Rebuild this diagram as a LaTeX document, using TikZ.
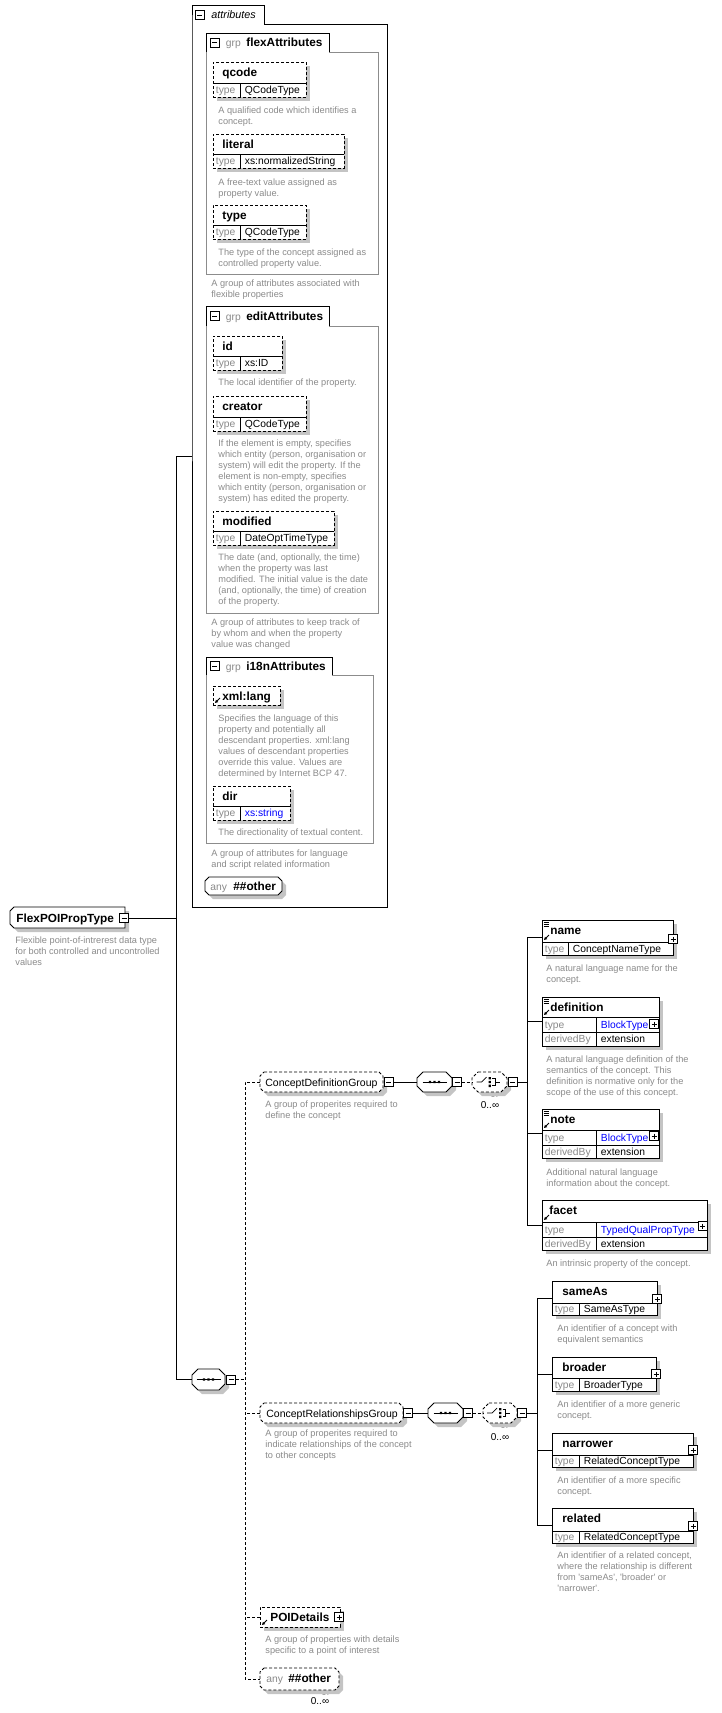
\documentclass[tikz,border=0pt]{standalone}
\usepackage{fontspec}
\setmainfont{Liberation Sans}
\usetikzlibrary{arrows.meta}
\definecolor{dg}{HTML}{8A8A8A}
\definecolor{shc}{HTML}{C4C4C4}
\definecolor{lnk}{HTML}{0000FF}
\definecolor{grpc}{HTML}{8C8C8C}

\newcommand\octp[5]{(#1+#5,#2) -- (#3-#5,#2) -- (#3,#2+#5) -- (#3,#4-#5) -- (#3-#5,#4) -- (#1+#5,#4) -- (#1,#4-#5) -- (#1,#2+#5) -- cycle}
\newcommand\frm[5]{\node[frame, minimum width={#4-#2}, minimum height={#5-#3}] (#1) at ({(#2+#4)/2},{(#3+#5)/2}) {};}
\newcommand\shp[7]{%
 \fill[shc, shift={(4,4)}] \octp{#2}{#3}{#4}{#5}{#6};
 \draw[fill=white, #7] \octp{#2}{#3}{#4}{#5}{#6};
 \frm{#1}{#2}{#3}{#4}{#5}}
\newcommand\elem[8]{%
 \fill[shc] (#2+4,#3+4) rectangle (#4+4,#5+4);
 \node[frame, draw, fill=white, #6, minimum width={#4-#2}, minimum height={#5-#3}] (#1) at ({(#2+#4)/2},{(#3+#5)/2}) {};
 \node[nm] (#1L) at (#8,#3+14.8) {#7};}
\newcommand\trow[9]{%
 \draw[line width=0.7pt] (#1,#3) -- (#2,#3) (#5,#3) -- (#5,#4);
 \node[tl] (#6) at (#1+2.5,{(#3+#4)/2+3.8}) {#7};
 \node[#8] (#6V) at (#5+4.5,{(#3+#4)/2+3.8}) {#9};}
\newcommand\desc[4]{\node[desc] (#1) at (#2,#3-8) {\rule{0pt}{8pt}#4};}
\newcommand\mnb[3]{\node[pm] (#1) at (#2,#3) {}; \draw[line width=0.7pt] (#2-2.5,#3) -- (#2+2.5,#3);}
\newcommand\plb[3]{\node[pm] (#1) at (#2,#3) {}; \draw[line width=0.7pt] (#2-2.5,#3) -- (#2+2.5,#3) (#2,#3-2.5) -- (#2,#3+2.5);}
\newcommand\lines[2]{\draw[line width=0.6pt] (#1+1.5,#2+2) -- (#1+6.5,#2+2) (#1+1.5,#2+4) -- (#1+6.5,#2+4) (#1+1.5,#2+6) -- (#1+6.5,#2+6);}
\newcommand\refar[2]{\draw[line width=0.8pt, -{Triangle[length=3pt,width=3pt]}] (#1+7,#2-7) -- (#1+2,#2-2);}
\newcommand\seqicon[2]{\draw[line width=0.7pt] (#1-12,#2) -- (#1+12,#2); \fill (#1-5.7,#2-1.2) rectangle (#1-3.3,#2+1.2) (#1-1.2,#2-1.2) rectangle (#1+1.2,#2+1.2) (#1+3.3,#2-1.2) rectangle (#1+5.7,#2+1.2);}
\newcommand\chicon[2]{\draw[line width=0.7pt] (#1-13,#2) -- (#1-8,#2) -- (#1-3,#2-5); \fill (#1-1,#2-5) rectangle (#1+1.4,#2-2.6) (#1-1,#2-1.2) rectangle (#1+1.4,#2+1.2) (#1-1,#2+2.6) rectangle (#1+1.4,#2+5); \draw[line width=0.7pt] (#1+2.5,#2-3.5) -- (#1+5.5,#2-3.5) -- (#1+5.5,#2+3.5) -- (#1+2.5,#2+3.5) (#1+5.5,#2) -- (#1+10,#2);}
\newcommand\tailmark[2]{\draw[dsh, line width=0.7pt] (#1-6,#2) -- (#1-2,#2+4) -- (#1+3,#2+4) -- (#1+6,#2);}
\newcommand\grp[8]{%
 \pgfmathsetmacro\gym{(#3+#5)/2}
 \draw[grpc] (#4,#5) -- (#6,#5) -- (#6,#7) -- (#2,#7) -- (#2,#5);
 \draw (#2,#5) -- (#2,#3) -- (#4,#3) -- (#4,#5);
 \mnb{#1M}{#2+8.5}{\gym}
 \node[tv, text=dg] (#1G) at (#2+19.5,\gym+4) {grp};
 \node[nm] (#1L) at (#2+40,\gym+4) {#8};
 \frm{#1}{#2}{#3}{#6}{#7}}

\begin{document}
\begin{tikzpicture}[x=1pt,y=-1pt, line width=0.8pt,
  desc/.style={font=\fontsize{9.2}{11}\selectfont, text=dg, align=left, anchor=north west, inner sep=0},
  nm/.style={font=\fontsize{11.8}{13}\selectfont\bfseries, anchor=base west, inner sep=0},
  rn/.style={font=\fontsize{10.5}{12}\selectfont, anchor=base west, inner sep=0},
  tv/.style={font=\fontsize{10.3}{12}\selectfont, anchor=base west, inner sep=0},
  tl/.style={tv, text=dg},
  tlink/.style={tv, text=lnk},
  frame/.style={inner sep=0, outer sep=0},
  dsh/.style={dash pattern=on 3pt off 2pt},
  pm/.style={draw, fill=white, minimum size=9pt, inner sep=0, outer sep=0, line width=0.7pt},
  cnt/.style={font=\fontsize{10}{12}\selectfont, inner sep=0},
]
\useasboundingbox (0,0) rectangle (722,1713);

% ---------- attributes panel ----------
\draw (192,24) -- (192,5) -- (264,5) -- (264,24) -- (387,24) -- (387,907) -- (192,907) -- cycle;
\frm{attr}{192}{5}{387}{907}
\mnb{attrM}{199.5}{15}
\node[tv, font=\fontsize{10.8}{12}\selectfont\itshape] (attrL) at (211,19) {attributes};

% flexAttributes
\grp{flex}{206}{33}{329}{52}{378}{274}{flexAttributes}
\elem{qcode}{213}{62}{306}{97}{dsh}{qcode}{222}
\trow{213}{306}{83}{97}{240}{qcodeT}{type}{tv}{QCodeType}
\desc{qcodeD}{218}{113.5}{A qualified code which identifies a\\concept.}
\elem{literal}{213}{134}{344}{168}{dsh}{literal}{222}
\trow{213}{344}{154}{168}{240}{literalT}{type}{tv}{xs:normalizedString}
\desc{literalD}{218}{185}{A free-text value assigned as\\property value.}
\elem{typeA}{213}{205}{306}{239}{dsh}{type}{222}
\trow{213}{306}{225}{239}{240}{typeAT}{type}{tv}{QCodeType}
\desc{typeAD}{218}{255.5}{The type of the concept assigned as\\controlled property value.}
\desc{flexD}{211}{286.5}{A group of attributes associated with\\flexible properties}

% editAttributes
\grp{edit}{206}{306}{329}{326}{378}{613}{editAttributes}
\elem{id}{213}{336}{282}{370}{dsh}{id}{222}
\trow{213}{282}{356}{370}{240}{idT}{type}{tv}{xs:ID}
\desc{idD}{218}{385.5}{The local identifier of the property.}
\elem{creator}{213}{396}{306}{431}{dsh}{creator}{222}
\trow{213}{306}{417}{431}{240}{creatorT}{type}{tv}{QCodeType}
\desc{creatorD}{218}{446.5}{If the element is empty, specifies\\which entity (person, organisation or\\system) will edit the property. If the\\element is non-empty, specifies\\which entity (person, organisation or\\system) has edited the property.}
\elem{modified}{213}{511}{334}{545}{dsh}{modified}{222}
\trow{213}{334}{531}{545}{240}{modifiedT}{type}{tv}{DateOptTimeType}
\desc{modifiedD}{218}{560.5}{The date (and, optionally, the time)\\when the property was last\\modified. The initial value is the date\\(and, optionally, the time) of creation\\of the property.}
\desc{editD}{211}{625.5}{A group of attributes to keep track of\\by whom and when the property\\value was changed}

% i18nAttributes
\grp{intl}{206}{657}{332}{675}{373}{843}{i18nAttributes}
\elem{xmllang}{213}{686}{280}{705}{dsh}{xml:lang}{222}
\refar{213}{705}
\desc{xmllangD}{218}{721.5}{Specifies the language of this\\property and potentially all\\descendant properties. xml:lang\\values of descendant properties\\override this value. Values are\\determined by Internet BCP 47.}
\elem{dir}{213}{786}{290}{820}{dsh}{dir}{222}
\trow{213}{290}{806}{820}{240}{dirT}{type}{tlink}{xs:string}
\desc{dirD}{218}{835.5}{The directionality of textual content.}
\desc{intlD}{211}{856.5}{A group of attributes for language\\and script related information}
\shp{anyA}{205}{877}{282}{895}{4}{}
\node[tv, text=dg] (anyAk) at (210,890.5) {any};
\node[nm] (anyAL) at (233,890.5) {\#\#other};

% ---------- FlexPOIPropType ----------
\fill[shc, shift={(4,4)}] (14,907) -- (125,907) -- (125,928) -- (14,928) -- (10,924) -- (10,911) -- cycle;
\draw[fill=white] (14,907) -- (125,907) -- (125,928) -- (14,928) -- (10,924) -- (10,911) -- cycle;
\frm{fpt}{10}{907}{125}{928}
\node[nm] (fptL) at (16,922) {FlexPOIPropType};
\mnb{fptM}{124}{918}
\desc{fptD}{15}{943.5}{Flexible point-of-intrerest data type\\for both controlled and uncontrolled\\values}

% ---------- main sequence ----------
\shp{seq0}{192}{1369}{225}{1390}{6}{}
\seqicon{208.5}{1379.5}
\mnb{seq0M}{231}{1379.5}

% ---------- ConceptDefinitionGroup ----------
\shp{cdg}{260}{1072}{383}{1092}{4}{dsh}
\node[rn] (cdgL) at (265,1086) {ConceptDefinitionGroup};
\mnb{cdgM}{388.5}{1082}
\desc{cdgD}{265}{1107.5}{A group of properites required to\\define the concept}
\shp{seq1}{417}{1072}{452}{1092}{6}{}
\seqicon{434.5}{1082}
\mnb{seq1M}{457}{1082}
\tailmark{494}{1092}
\shp{ch1}{472}{1072}{507}{1092}{6}{dsh}
\chicon{489.5}{1082}
\mnb{ch1M}{512.5}{1082}
\node[cnt] (ch1N) at (490,1105) {0..∞};

\elem{name}{542}{920}{673}{955}{}{name}{550}
\lines{542}{920} \refar{542}{942}
\trow{542}{673}{942}{955}{568}{nameT}{type}{tv}{ConceptNameType}
\plb{nameP}{673}{939}
\desc{nameD}{546}{971.5}{A natural language name for the\\concept.}

\elem{definition}{542}{997}{659}{1046}{}{definition}{550}
\lines{542}{997} \refar{542}{1017}
\trow{542}{659}{1017}{1032}{596}{defT}{type}{tlink}{BlockType}
\trow{542}{659}{1032}{1046}{596}{defT2}{derivedBy}{tv}{extension}
\plb{defP}{654}{1024}
\desc{definitionD}{546}{1062.5}{A natural language definition of the\\semantics of the concept. This\\definition is normative only for the\\scope of the use of this concept.}

\elem{note}{542}{1109}{659}{1158}{}{note}{550}
\lines{542}{1109} \refar{542}{1130}
\trow{542}{659}{1130}{1145}{596}{noteT}{type}{tlink}{BlockType}
\trow{542}{659}{1145}{1158}{596}{noteT2}{derivedBy}{tv}{extension}
\plb{noteP}{654}{1136}
\desc{noteD}{546}{1175.5}{Additional natural language\\information about the concept.}

\elem{facet}{542}{1200}{707}{1250}{}{facet}{549}
\refar{542}{1222}
\trow{542}{707}{1222}{1237}{596}{facetT}{type}{tlink}{TypedQualPropType}
\trow{542}{707}{1237}{1250}{596}{facetT2}{derivedBy}{tv}{extension}
\plb{facetP}{702.5}{1226}
\desc{facetD}{546}{1266.5}{An intrinsic property of the concept.}

% ---------- ConceptRelationshipsGroup ----------
\shp{crg}{260}{1403}{403}{1423}{4}{dsh}
\node[rn] (crgL) at (266,1417) {ConceptRelationshipsGroup};
\mnb{crgM}{408}{1413}
\desc{crgD}{265}{1436.5}{A group of properites required to\\indicate relationships of the concept\\to other concepts}
\shp{seq2}{428}{1403}{463}{1423}{6}{}
\seqicon{445.5}{1413}
\mnb{seq2M}{468}{1413}
\tailmark{504}{1423}
\shp{ch2}{483}{1403}{517}{1423}{6}{dsh}
\chicon{500}{1413}
\mnb{ch2M}{522}{1413}
\node[cnt] (ch2N) at (500,1437) {0..∞};

\elem{sameAs}{552}{1281}{657}{1315}{}{sameAs}{562}
\trow{552}{657}{1303}{1315}{579}{sameAsT}{type}{tv}{SameAsType}
\plb{sameAsP}{657}{1299}
\desc{sameAsD}{557}{1331.5}{An identifier of a concept with\\equivalent semantics}
\elem{broader}{552}{1357}{656}{1391}{}{broader}{562}
\trow{552}{656}{1378}{1391}{579}{broaderT}{type}{tv}{BroaderType}
\plb{broaderP}{656}{1374}
\desc{broaderD}{557}{1407.5}{An identifier of a more generic\\concept.}
\elem{narrower}{552}{1433}{693}{1467}{}{narrower}{562}
\trow{552}{693}{1455}{1467}{579}{narrowerT}{type}{tv}{RelatedConceptType}
\plb{narrowerP}{693}{1450}
\desc{narrowerD}{557}{1483.5}{An identifier of a more specific\\concept.}
\elem{related}{552}{1508}{693}{1543}{}{related}{562}
\trow{552}{693}{1531}{1543}{579}{relatedT}{type}{tv}{RelatedConceptType}
\plb{relatedP}{693}{1526}
\desc{relatedD}{557}{1558.5}{An identifier of a related concept,\\where the relationship is different\\from \textquotesingle sameAs\textquotesingle, \textquotesingle broader\textquotesingle\ or\\\textquotesingle narrower\textquotesingle.}

% ---------- POIDetails and any ----------
\elem{poi}{260}{1607}{340}{1627}{dsh}{POIDetails}{270}
\refar{260}{1627}
\plb{poiP}{339}{1617}
\desc{poiD}{265}{1642.5}{A group of properties with details\\specific to a point of interest}
\tailmark{325}{1690}
\shp{anyB}{260}{1668}{339}{1690}{4}{dsh}
\node[tv, text=dg] (anyBk) at (266,1682) {any};
\node[nm] (anyBL) at (288,1682) {\#\#other};
\node[cnt] (anyBN) at (320,1701) {0..∞};

% ---------- connectors ----------
\coordinate (tTop) at (176,456);
\coordinate (tMid) at (176,918);
\coordinate (tBot) at (176,1379.5);
\draw (attr.west) -- (tTop) -- (tBot) -- (seq0.west);
\draw (fptM.east) -- (tMid);
\coordinate (sp) at (245,1379.5);
\coordinate (spTop) at (245,1082);
\coordinate (spBot) at (245,1679);
\draw[dsh] (seq0M.east) -- (sp);
\draw[dsh] (cdg.west) -- (spTop) -- (spBot) -- (anyB.west);
\draw[dsh] (crg.west) -- (crg.west -| sp);
\draw[dsh] (poi.west) -- (poi.west -| sp);
\draw (cdgM.east) -- (seq1.west);
\draw[dsh] (seq1M.east) -- (ch1.west);
\coordinate (cj1) at (527,1082);
\draw (ch1M.east) -- (cj1);
\draw (name.west) -| (cj1);
\draw (facet.west) -| (cj1);
\draw (definition.west) -- (definition.west -| cj1);
\draw (note.west) -- (note.west -| cj1);
\draw (crgM.east) -- (seq2.west);
\draw[dsh] (seq2M.east) -- (ch2.west);
\coordinate (cj2) at (537,1413);
\draw (ch2M.east) -- (cj2);
\draw (sameAs.west) -| (cj2);
\draw (related.west) -| (cj2);
\draw (broader.west) -- (broader.west -| cj2);
\draw (narrower.west) -- (narrower.west -| cj2);
\end{tikzpicture}
\end{document}
